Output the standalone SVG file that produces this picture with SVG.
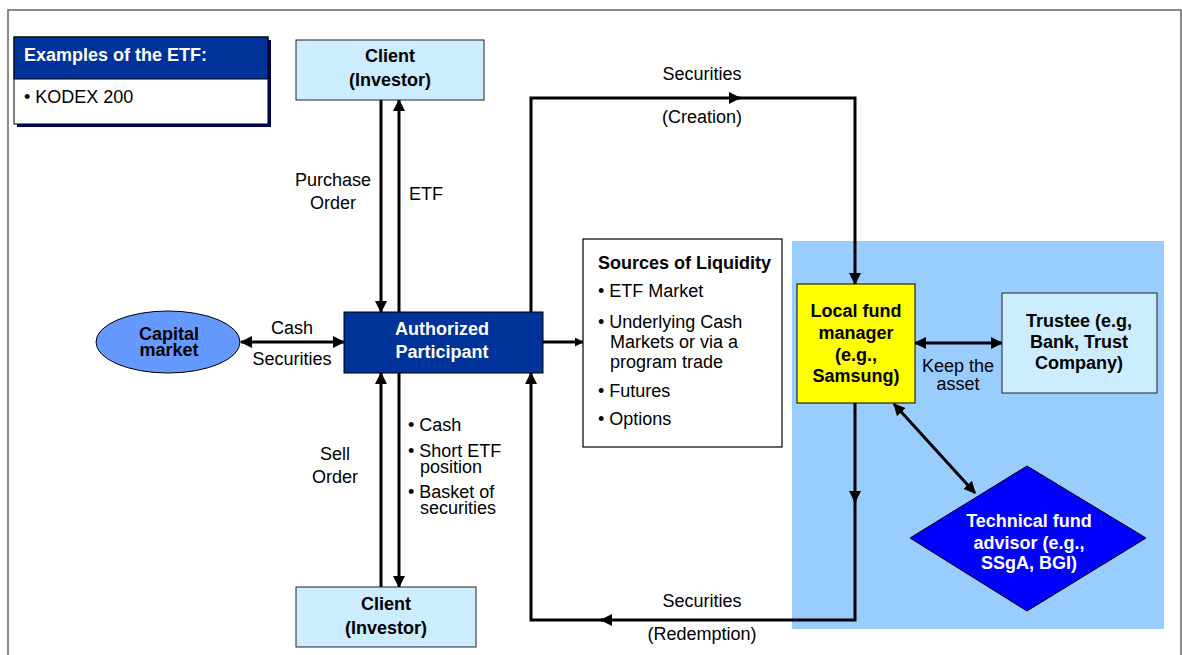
<svg xmlns="http://www.w3.org/2000/svg" width="1182" height="655" viewBox="0 0 1182 655">
  <style>
    text { font-family: "Liberation Sans", Arial, sans-serif; font-size: 18px; fill: #000; }
    .b { font-weight: bold; }
    .w { fill: #fff; }
    .c { text-anchor: middle; }
    .conn { fill: none; stroke: #000; stroke-width: 3; }
    .box { stroke: #222; stroke-width: 1; }
  </style>
  <defs>
    <marker id="ah" viewBox="0 0 12 12" refX="11" refY="6" markerWidth="12" markerHeight="12" markerUnits="userSpaceOnUse" orient="auto-start-reverse">
      <path d="M0,0 L12,6 L0,12 Z" fill="#000"/>
    </marker>
    <marker id="ahs" viewBox="0 0 10 10" refX="9" refY="5" markerWidth="9" markerHeight="9" markerUnits="userSpaceOnUse" orient="auto">
      <path d="M0,0 L10,5 L0,10 Z" fill="#000"/>
    </marker>
  </defs>

  <rect width="1182" height="655" fill="#fff"/>
  <!-- page frame -->
  <path d="M8,660 V10 H1181 V660" fill="none" stroke="#666" stroke-width="1.5"/>

  <!-- fund manager zone -->
  <rect x="792" y="241" width="372" height="388" fill="#99ccff"/>

  <!-- connectors -->
  <g id="connectors">
    <path class="conn" d="M381,100 V312" marker-end="url(#ah)"/>
    <path class="conn" d="M399,312 V100" marker-end="url(#ah)"/>
    <path class="conn" d="M381,587 V373" marker-end="url(#ah)"/>
    <path class="conn" d="M399,373 V587" marker-end="url(#ah)"/>
    <path class="conn" d="M241,342 H344" marker-start="url(#ah)" marker-end="url(#ah)"/>
    <path class="conn" stroke-width="2" d="M543,342 H583" marker-end="url(#ahs)"/>
    <!-- creation loop -->
    <path class="conn" d="M531,312 V98 H740" marker-end="url(#ah)"/>
    <path class="conn" d="M738,98 H855 V284" marker-end="url(#ah)"/>
    <!-- redemption loop -->
    <path class="conn" d="M855,403 V502" marker-end="url(#ah)"/>
    <path class="conn" d="M855,500 V620 H601" marker-end="url(#ah)"/>
    <path class="conn" d="M603,620 H531 V373" marker-end="url(#ah)"/>
    <!-- fund manager links -->
    <path class="conn" d="M915,343 H1002" marker-start="url(#ah)" marker-end="url(#ah)"/>
    <path class="conn" d="M894,404 L975,493" marker-start="url(#ah)" marker-end="url(#ah)"/>
  </g>

  <!-- connector labels -->
  <g id="labels">
    <text class="c" x="333" y="186">Purchase</text>
    <text class="c" x="333" y="209">Order</text>
    <text x="409" y="200">ETF</text>
    <text class="c" x="292" y="334">Cash</text>
    <text class="c" x="292" y="365">Securities</text>
    <text class="c" x="335" y="460">Sell</text>
    <text class="c" x="335" y="483">Order</text>
    <text x="408" y="431">• Cash</text>
    <text x="408" y="457">• Short ETF</text>
    <text x="420" y="473">position</text>
    <text x="408" y="498">• Basket of</text>
    <text x="420" y="514">securities</text>
    <text class="c" x="702" y="80">Securities</text>
    <text class="c" x="702" y="123">(Creation)</text>
    <text class="c" x="702" y="607">Securities</text>
    <text class="c" x="702" y="640">(Redemption)</text>
    <text class="c" x="958" y="372">Keep the</text>
    <text class="c" x="958" y="390">asset</text>
  </g>

  <g id="examples">
    <rect x="17" y="40" width="254" height="87" fill="#000066"/>
    <rect x="14" y="37" width="254" height="87" fill="#fff" stroke="#000" stroke-width="1"/>
    <rect x="14" y="37" width="254" height="42" fill="#003399" stroke="#000" stroke-width="1"/>
    <text class="b w" x="24" y="61">Examples of the ETF:</text>
    <text x="24" y="103">• KODEX 200</text>
  </g>

  <g id="client-top">
    <rect class="box" x="296" y="40" width="188" height="60" fill="#ccecff"/>
    <text class="b c" x="390" y="62">Client</text>
    <text class="b c" x="390" y="86">(Investor)</text>
  </g>

  <g id="client-bottom">
    <rect class="box" x="296" y="587" width="180" height="60" fill="#ccecff"/>
    <text class="b c" x="386" y="610">Client</text>
    <text class="b c" x="386" y="634">(Investor)</text>
  </g>

  <g id="capital-market">
    <ellipse cx="168" cy="342" rx="72" ry="31" fill="#6699ff" stroke="#000" stroke-width="1"/>
    <text class="b c" x="169" y="340">Capital</text>
    <text class="b c" x="169" y="356">market</text>
  </g>

  <g id="authorized-participant">
    <rect x="344" y="312" width="199" height="61" fill="#003399" stroke="#000" stroke-width="1"/>
    <text class="b w c" x="442" y="335">Authorized</text>
    <text class="b w c" x="442" y="358">Participant</text>
  </g>

  <g id="sources">
    <rect x="583" y="239" width="199" height="208" fill="#fff" stroke="#000" stroke-width="1.2"/>
    <text class="b" x="598" y="269">Sources of Liquidity</text>
    <text x="598" y="297">• ETF Market</text>
    <text x="598" y="328">• Underlying Cash</text>
    <text x="610" y="348">Markets or via a</text>
    <text x="610" y="368">program trade</text>
    <text x="598" y="397">• Futures</text>
    <text x="598" y="425">• Options</text>
  </g>

  <g id="local-fund-manager">
    <rect x="797" y="284" width="118" height="119" fill="#ffff00" stroke="#000" stroke-width="1"/>
    <text class="b c" x="856" y="317">Local fund</text>
    <text class="b c" x="856" y="339">manager</text>
    <text class="b c" x="856" y="361">(e.g.,</text>
    <text class="b c" x="856" y="382">Samsung)</text>
  </g>

  <g id="trustee">
    <rect class="box" x="1002" y="293" width="155" height="100" fill="#ccecff"/>
    <text class="b c" x="1079" y="327">Trustee (e.g,</text>
    <text class="b c" x="1079" y="348">Bank, Trust</text>
    <text class="b c" x="1079" y="369">Company)</text>
  </g>

  <g id="technical-advisor">
    <polygon points="1027,466 1146,538 1027,611 910,538" fill="#0000ff" stroke="#000" stroke-width="1"/>
    <text class="b w c" x="1029" y="527">Technical fund</text>
    <text class="b w c" x="1029" y="549">advisor (e.g.,</text>
    <text class="b w c" x="1029" y="569">SSgA, BGI)</text>
  </g>
</svg>
